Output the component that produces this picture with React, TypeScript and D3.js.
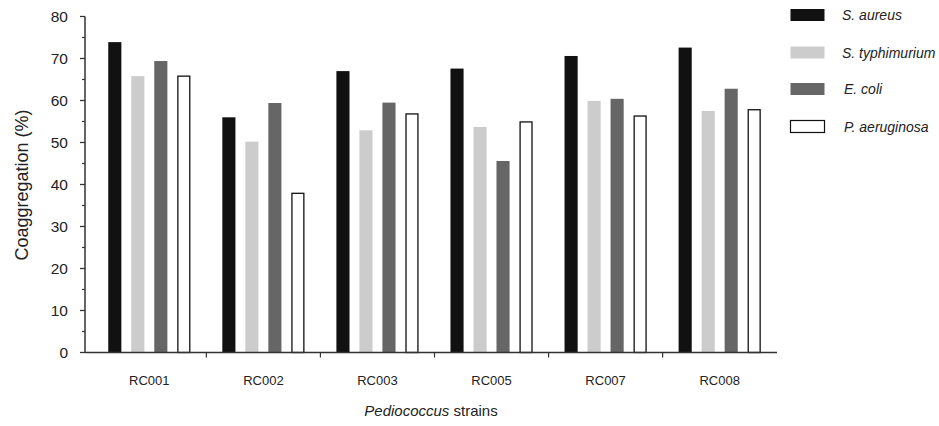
import * as d3 from "d3";

const strains = ["RC001", "RC002", "RC003", "RC005", "RC007", "RC008"];
const series = ["S. aureus", "S. typhimurium", "E. coli", "P. aeruginosa"];
const seriesFill = ["#111111", "#cccccc", "#666666", "#ffffff"];

const sAureus = [73.9, 56.0, 67.0, 67.6, 70.6, 72.6];
const sTyphimurium = [65.8, 50.2, 52.9, 53.7, 59.9, 57.5];
const eColi = [69.4, 59.4, 59.5, 45.6, 60.4, 62.8];
const pAeruginosa = [65.8, 37.9, 56.8, 54.9, 56.3, 57.8];

const yTicks = [0, 10, 20, 30, 40, 50, 60, 70, 80];

const values = [sAureus, sTyphimurium, eColi, pAeruginosa];

const width = 939;
const height = 426;
const font = "'Liberation Sans', Arial, sans-serif";

export default function App() {
  const axisLeft = 85;
  const axisRight = 777;

  const x = d3
    .scaleBand<string>()
    .domain(strains)
    .range([90, 779])
    .paddingInner(0.28)
    .paddingOuter(0.16);

  const xInner = d3
    .scaleBand<string>()
    .domain(series)
    .range([0, x.bandwidth()])
    .paddingInner(0.43)
    .paddingOuter(0);

  const y = d3.scaleLinear().domain([0, 80]).range([352.5, 16.5]);

  // ticks sit between the strain groups
  const between = strains.slice(1).map((s, i) => {
    const prev = strains[i];
    return ((x(prev) as number) + x.bandwidth() + (x(s) as number)) / 2;
  });

  const minor = d3.range(5, 80, 10);

  return (
    <svg
      width={width}
      height={height}
      style={{ position: "absolute", left: 0, top: 0, background: "#fff" }}
      fontFamily={font}
    >
      {/* bars */}
      {strains.map((s, i) => (
        <g key={s} transform={`translate(${x(s)},0)`}>
          {series.map((name, j) => {
            const v = values[j][i];
            const isOpen = j === 3;
            return (
              <rect
                key={name}
                x={(xInner(name) as number) + (isOpen ? 0.6 : 0)}
                y={y(v)}
                width={xInner.bandwidth() - (isOpen ? 1.2 : 0)}
                height={y(0) - y(v)}
                fill={seriesFill[j]}
                stroke={isOpen ? "#111" : "none"}
                strokeWidth={isOpen ? 1.3 : 0}
              />
            );
          })}
        </g>
      ))}

      {/* y axis */}
      <line x1={axisLeft} x2={axisLeft} y1={y(0)} y2={y(80)} stroke="#333" strokeWidth={1.5} />
      {yTicks.map((t) => (
        <g key={t}>
          <line x1={axisLeft - 5} x2={axisLeft} y1={y(t)} y2={y(t)} stroke="#333" strokeWidth={1.3} />
          <text
            x={68}
            y={y(t)}
            dy="0.36em"
            textAnchor="end"
            fontSize={15.5}
            fill="#222"
          >
            {t}
          </text>
        </g>
      ))}
      {minor.map((t) => (
        <line key={t} x1={axisLeft - 3} x2={axisLeft} y1={y(t)} y2={y(t)} stroke="#333" strokeWidth={1.2} />
      ))}

      {/* x axis */}
      <line x1={axisLeft} x2={axisRight} y1={y(0)} y2={y(0)} stroke="#333" strokeWidth={1.6} />
      {between.map((bx, i) => (
        <line key={i} x1={bx} x2={bx} y1={y(0)} y2={y(0) + 5} stroke="#333" strokeWidth={1.2} />
      ))}
      {strains.map((s) => (
        <text
          key={s}
          x={(x(s) as number) + x.bandwidth() / 2}
          y={385}
          textAnchor="middle"
          fontSize={13}
          fill="#222"
        >
          {s}
        </text>
      ))}

      {/* axis titles */}
      <text x={431} y={416} textAnchor="middle" fontSize={15} fill="#222">
        <tspan fontStyle="italic">Pediococcus</tspan> strains
      </text>
      <text
        transform="translate(28,185) rotate(-90)"
        textAnchor="middle"
        fontSize={18}
        fill="#222"
      >
        Coaggregation (%)
      </text>

      {/* legend */}
      {series.map((name, j) => {
        const cy = [15, 52.5, 89, 126.5][j];
        return (
          <g key={name}>
            <rect
              x={790.5}
              y={cy - 6}
              width={34}
              height={12}
              fill={seriesFill[j]}
              stroke={j === 3 ? "#111" : "none"}
              strokeWidth={j === 3 ? 1.2 : 0}
            />
            <text
              x={j === 0 || j === 1 ? 842 : 844}
              y={cy}
              dy="0.36em"
              fontSize={14}
              fontStyle="italic"
              fill="#222"
            >
              {name}
            </text>
          </g>
        );
      })}
    </svg>
  );
}
